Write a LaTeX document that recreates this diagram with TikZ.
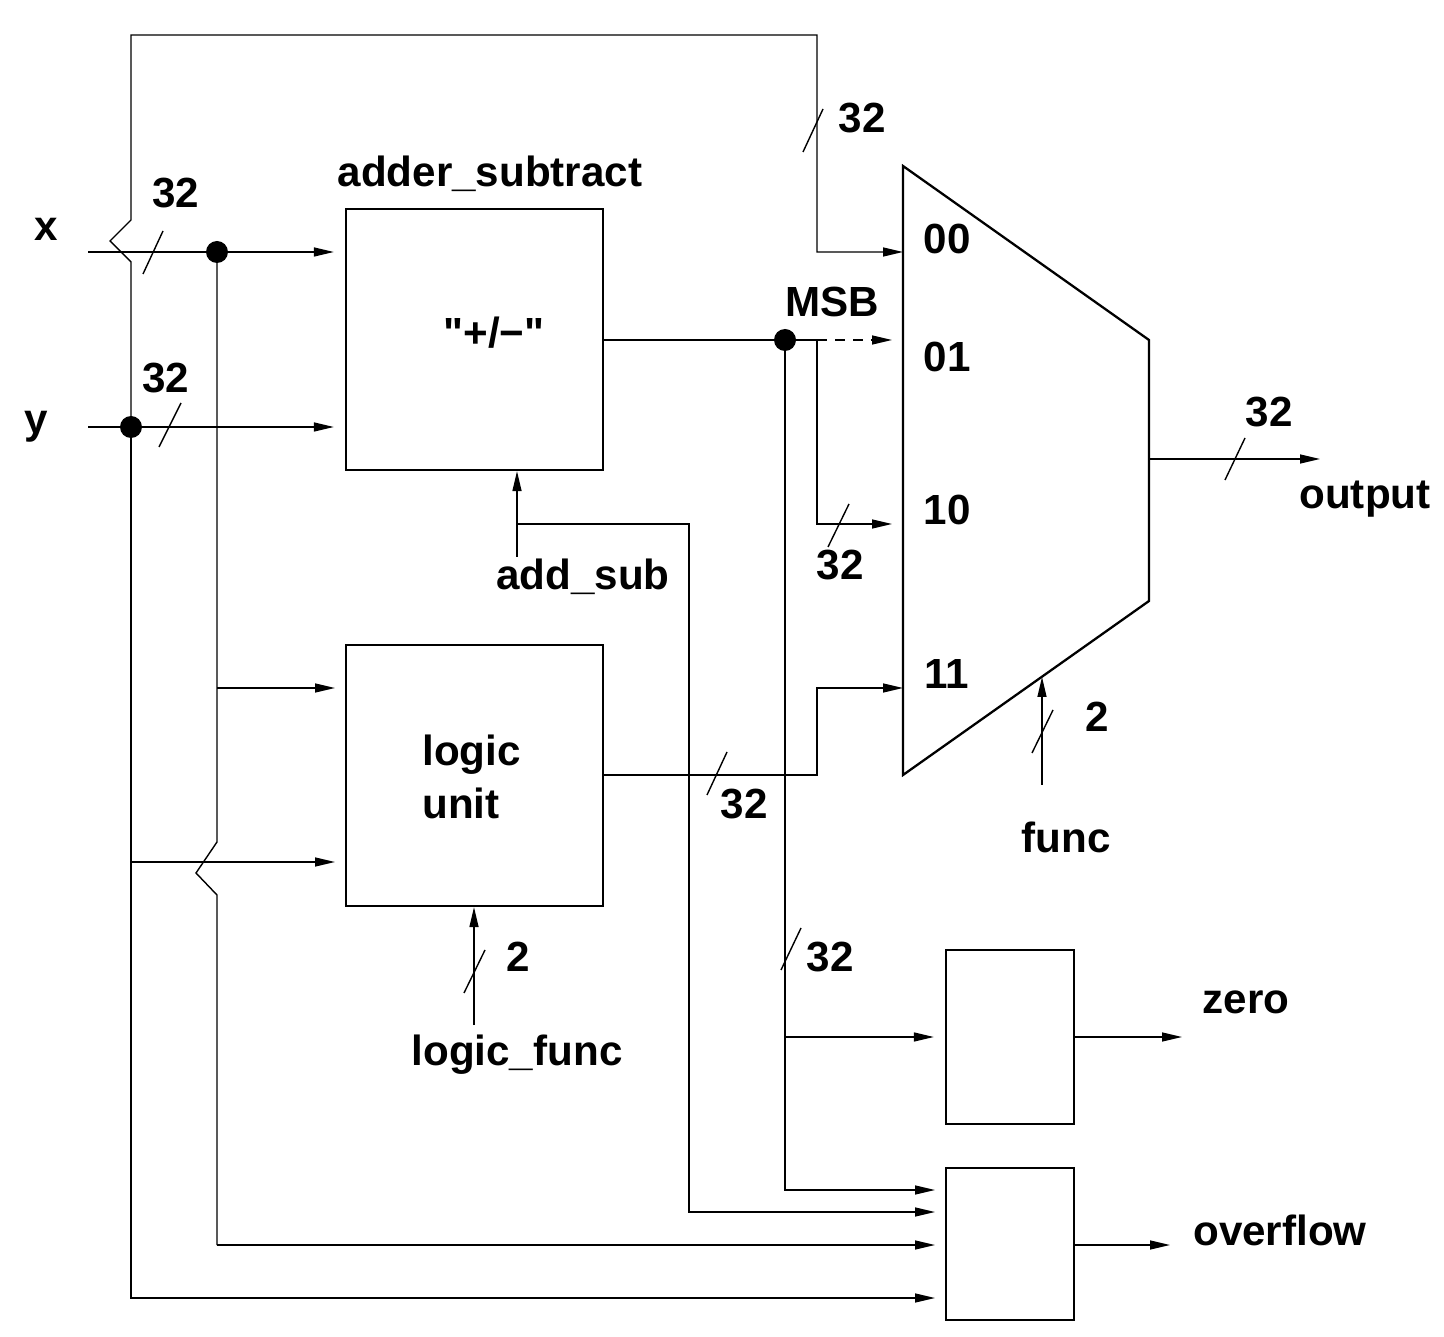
\documentclass[tikz,border=0pt]{standalone}
\usepackage{fontspec}
\setmainfont{Liberation Sans}
\usetikzlibrary{arrows.meta}
\newcommand\straightq{\XeTeXglyph\XeTeXglyphindex "quotedbl"\relax}
\begin{document}
\begin{tikzpicture}[x=0.02cm,y=-0.02cm,
  wire/.style={line width=0.8pt},
  arr/.style={wire,-{Triangle[length=0.4cm,width=0.18cm]}},
  blk/.style={draw,line width=1.3pt,inner sep=0pt},
  lbl/.style={font=\fontsize{24pt}{30pt}\selectfont\bfseries,inner sep=0pt},
  dot/.style={circle,fill,inner sep=0pt,minimum size=0.44cm}]
\useasboundingbox (0,0) rectangle (1444,1337);

% blocks
\node[blk,minimum width=5.14cm,minimum height=5.22cm] (add) at (474.5,339.5) {};
\node[blk,minimum width=5.14cm,minimum height=5.22cm] (lu) at (474.5,775.5) {};
\node[blk,minimum width=2.56cm,minimum height=3.48cm] (zero) at (1010,1037) {};
\node[blk,minimum width=2.56cm,minimum height=3.04cm] (ovf) at (1010,1244) {};
\draw[line width=1.3pt] (903,166) coordinate (m1) -- (1149,340) coordinate (m2)
  -- (1149,601) coordinate (m3) -- (903,775) coordinate (m4) -- cycle;

% named points
\coordinate (xin) at (88,252);
\coordinate (yin) at (88,427);
\node[dot] (dx) at (217,252) {};
\node[dot] (dy) at (131,427) {};
\node[dot] (dm) at (785,340) {};

% inputs
\draw[arr,shorten >=0.22cm] (xin) -- (xin -| add.west);
\draw[arr,shorten >=0.22cm] (yin) -- (yin -| add.west);

% y bus: up over the x wire, to mux input 00
\draw[arr] (dy.center) -- (131,262) -- (110,241) -- (131,220) -- (131,35)
  -- (817,35) -- (817,252) -- (903,252);
\draw[arr,shorten >=0.22cm] (dy.center) -- (131,1298) -- (946,1298);
\draw[arr,shorten >=0.22cm] (131,862) -- (346,862);

% x bus
\draw[wire] (dx.center) -- (217,842) -- (196,873) -- (217,895) -- (217,1245);
\draw[arr,shorten >=0.22cm] (217,1245) -- (946,1245);
\draw[arr,shorten >=0.22cm] (217,688) -- (346,688);

% adder output
\draw[wire] (add.east |- dm) -- (dm.center) -- (817,340);
\draw[arr,dash pattern=on 0.2cm off 0.16cm] (817,340) -- (892,340);
\draw[arr] (817,340) -- (817,524) -- (892,524);
\draw[arr,shorten >=0.22cm] (dm.center) -- (785,1190) -- (946,1190);
\draw[arr,shorten >=0.22cm] (785,1037) -- (zero.west);

% add_sub
\coordinate (as) at (517,557);
\draw[arr] (as) -- (as |- add.south);
\draw[arr,shorten >=0.22cm] (517,524) -- (689,524) -- (689,1212) -- (946,1212);

% logic unit output
\draw[arr] (603,775) -- (817,775) -- (817,688) -- (903,688);
\coordinate (lf) at (474,1025);
\draw[arr] (lf) -- (lf |- lu.south);

% mux output and select
\draw[arr] (1149,459) -- (1320,459);
\coordinate (fs) at (1042,785);
\draw[arr] (fs) -- (1042,677);

% zero / overflow outputs
\draw[arr] (zero.east) -- (1182,1037);
\draw[arr] (1074,1245) -- (1170,1245);

% bus-width slashes
\foreach \a/\b/\c/\d in {163/231/143/274, 181/403/159/447, 823/109/803/152,
  849/504/828/547, 727/752/707/795, 1245/438/1225/480, 1053/710/1032/753,
  485/950/464/993, 801/928/781/970}
  \draw[wire] (\a,\b) -- (\c,\d);

% labels
\node[lbl] (l1) at (176,193) {32};
\node[lbl] (l2) at (166,378) {32};
\node[lbl] (l3) at (862,118) {32};
\node[lbl] (l4) at (840,565) {32};
\node[lbl] (l5) at (744,804) {32};
\node[lbl] (l6) at (830,957) {32};
\node[lbl] (l7) at (1269,412) {32};
\node[lbl] (l8) at (1097,717) {2};
\node[lbl] (l9) at (518,957) {2};
\node[lbl] (lx) at (46,229) {x};
\node[lbl] (ly) at (36,427) {y};
\node[lbl] (ladd) at (490,174) {adder\_subtract};
\node[lbl] (lpm) at (494,333) {\straightq+/−\straightq};
\node[lbl] (lmsb) at (832,302) {MSB};
\node[lbl] (i00) at (947,239) {00};
\node[lbl] (i01) at (947,357) {01};
\node[lbl] (i10) at (947,510) {10};
\node[lbl] (i11) at (947,674) {11};
\node[lbl] (lout) at (1365,499) {output};
\node[lbl] (las) at (583,577) {add\_sub};
\node[lbl,align=left,anchor=west] (llu) at (422,777) {logic\\unit};
\node[lbl] (lfunc) at (1066,837) {func};
\node[lbl] (llf) at (517,1055) {logic\_func};
\node[lbl] (lz) at (1246,1002) {zero};
\node[lbl] (lo) at (1280,1230) {overflow};
\end{tikzpicture}
\end{document}
